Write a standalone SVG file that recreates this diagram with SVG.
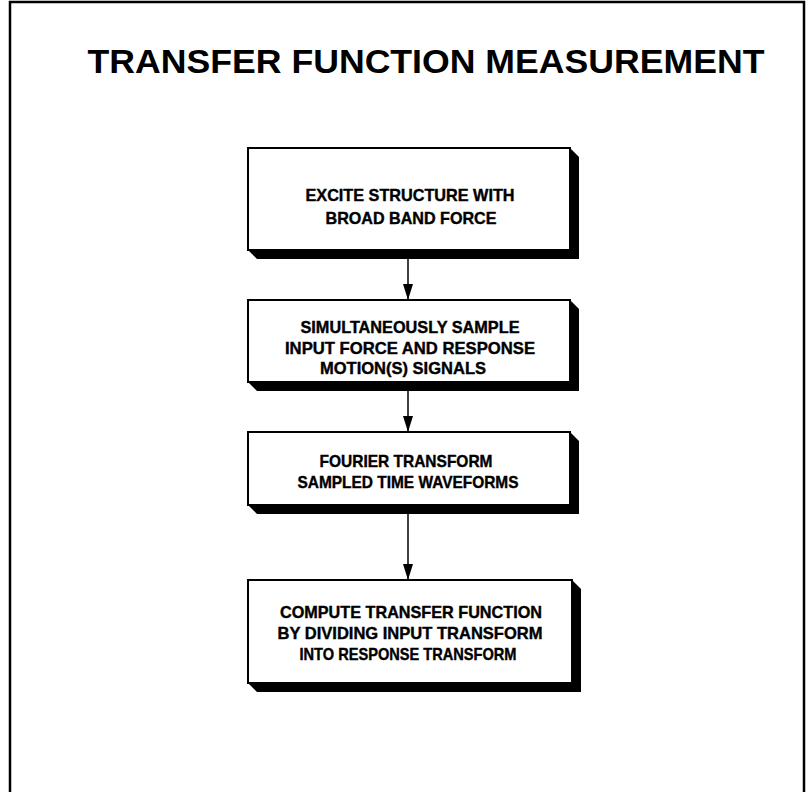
<svg xmlns="http://www.w3.org/2000/svg" width="811" height="792" viewBox="0 0 811 792">
  <defs>
    <style>
      .frame { fill: none; stroke: #000; stroke-width: 2.5; }
      .title { font-family: "Liberation Sans", Arial, sans-serif; font-weight: bold; font-size: 34px; fill: #000; text-anchor: middle; }
      .box { fill: #fff; stroke: #000; stroke-width: 2; }
      .shadow { fill: #000; }
      .lbl { font-family: "Liberation Sans", Arial, sans-serif; font-weight: bold; font-size: 17px; fill: #000; text-anchor: middle; stroke: #000; stroke-width: 0.4; }
      .conn { stroke: #000; stroke-width: 1.5; fill: none; marker-end: url(#arr); }
    </style>
    <marker id="arr" viewBox="0 0 16 10" refX="16" refY="5" markerWidth="16" markerHeight="10" markerUnits="userSpaceOnUse" orient="auto">
      <path d="M0,0 L16,5 L0,10 Z" fill="#000"/>
    </marker>
  </defs>
  <rect width="811" height="792" fill="#fff"/>
  <path class="frame" d="M10,792 V2 H804 V792"/>
  <text class="title" x="426" y="73" textLength="677" lengthAdjust="spacingAndGlyphs">TRANSFER FUNCTION MEASUREMENT</text>

  <g id="connectors">
    <path class="conn" d="M408,258 V300"/>
    <path class="conn" d="M408,391 V432"/>
    <path class="conn" d="M408,514 V580"/>
  </g>

  <g id="n1">
    <polygon class="shadow" points="570,148 579,157 579,259 257,259 248,250"/>
    <rect class="box" x="248" y="148" width="322" height="102"/>
    <text class="lbl" x="410" y="201" textLength="209" lengthAdjust="spacingAndGlyphs">EXCITE STRUCTURE WITH</text>
    <text class="lbl" x="411" y="224" textLength="171" lengthAdjust="spacingAndGlyphs">BROAD BAND FORCE</text>
  </g>

  <g id="n2">
    <polygon class="shadow" points="570,300 579,309 579,391 257,391 248,382"/>
    <rect class="box" x="248" y="300" width="322" height="82"/>
    <text class="lbl" x="410" y="333" textLength="219" lengthAdjust="spacingAndGlyphs">SIMULTANEOUSLY SAMPLE</text>
    <text class="lbl" x="410" y="354" textLength="250" lengthAdjust="spacingAndGlyphs">INPUT FORCE AND RESPONSE</text>
    <text class="lbl" x="403" y="374" textLength="166" lengthAdjust="spacingAndGlyphs">MOTION(S) SIGNALS</text>
  </g>

  <g id="n3">
    <polygon class="shadow" points="570,432 579,441 579,514 257,514 248,505"/>
    <rect class="box" x="248" y="432" width="322" height="73"/>
    <text class="lbl" x="406" y="467" textLength="173" lengthAdjust="spacingAndGlyphs">FOURIER TRANSFORM</text>
    <text class="lbl" x="408" y="488" textLength="221" lengthAdjust="spacingAndGlyphs">SAMPLED TIME WAVEFORMS</text>
  </g>

  <g id="n4">
    <polygon class="shadow" points="572,580 581,589 581,692 257,692 248,683"/>
    <rect class="box" x="248" y="580" width="324" height="103"/>
    <text class="lbl" x="411" y="618" textLength="262" lengthAdjust="spacingAndGlyphs">COMPUTE TRANSFER FUNCTION</text>
    <text class="lbl" x="410" y="639" textLength="265" lengthAdjust="spacingAndGlyphs">BY DIVIDING INPUT TRANSFORM</text>
    <text class="lbl" x="408" y="660" textLength="217" lengthAdjust="spacingAndGlyphs">INTO RESPONSE TRANSFORM</text>
  </g>
</svg>
